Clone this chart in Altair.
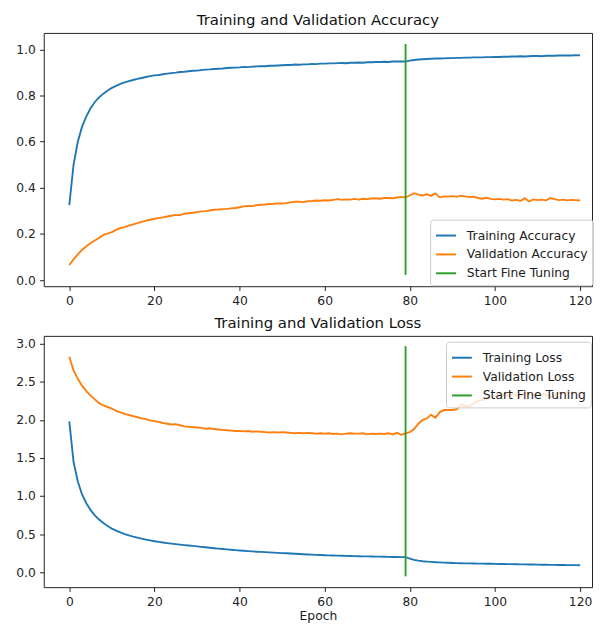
import altair as alt
import pandas as pd

epochs = list(range(121))

train_acc = [
    0.325, 0.500, 0.600, 0.665, 0.710, 0.745, 0.772, 0.792, 0.808, 0.822,
    0.833, 0.842, 0.850, 0.857, 0.862, 0.867, 0.872, 0.876, 0.880, 0.884,
    0.887, 0.889, 0.892, 0.895, 0.897, 0.899, 0.902, 0.903, 0.905, 0.907,
    0.908, 0.910, 0.912, 0.913, 0.915, 0.916, 0.917, 0.919, 0.920, 0.921,
    0.922, 0.924, 0.923, 0.925, 0.926, 0.927, 0.927, 0.929, 0.929, 0.930,
    0.931, 0.932, 0.932, 0.934, 0.933, 0.935, 0.935, 0.937, 0.936, 0.938,
    0.938, 0.939, 0.939, 0.940, 0.941, 0.940, 0.942, 0.942, 0.943, 0.942,
    0.944, 0.944, 0.945, 0.945, 0.946, 0.945, 0.947, 0.947, 0.948, 0.947,
    0.951, 0.954, 0.956, 0.957, 0.958, 0.959, 0.960, 0.960, 0.961, 0.962,
    0.962, 0.963, 0.963, 0.964, 0.964, 0.965, 0.965, 0.965, 0.966, 0.966,
    0.967, 0.967, 0.968, 0.968, 0.969, 0.969, 0.970, 0.969, 0.970, 0.971,
    0.971, 0.970, 0.972, 0.972, 0.972, 0.973, 0.973, 0.974, 0.973, 0.975,
    0.974,
]

val_acc = [
    0.066, 0.090, 0.112, 0.131, 0.147, 0.161, 0.172, 0.183, 0.196, 0.202,
    0.208, 0.218, 0.226, 0.230, 0.236, 0.242, 0.247, 0.253, 0.258, 0.262,
    0.266, 0.269, 0.272, 0.276, 0.279, 0.283, 0.282, 0.288, 0.290, 0.292,
    0.295, 0.298, 0.299, 0.302, 0.305, 0.306, 0.308, 0.309, 0.311, 0.313,
    0.316, 0.320, 0.322, 0.321, 0.325, 0.327, 0.328, 0.330, 0.331, 0.333,
    0.332, 0.334, 0.337, 0.340, 0.340, 0.338, 0.342, 0.343, 0.345, 0.344,
    0.346, 0.345, 0.348, 0.351, 0.348, 0.350, 0.349, 0.352, 0.349, 0.353,
    0.351, 0.354, 0.355, 0.353, 0.356, 0.356, 0.355, 0.358, 0.361, 0.358,
    0.368, 0.377, 0.371, 0.367, 0.372, 0.365, 0.376, 0.359, 0.363, 0.362,
    0.364, 0.361, 0.366, 0.363, 0.360, 0.362, 0.356, 0.353, 0.357, 0.352,
    0.350, 0.352, 0.349, 0.351, 0.345, 0.348, 0.343, 0.355, 0.341, 0.350,
    0.347, 0.349, 0.346, 0.356, 0.351, 0.347, 0.349, 0.346, 0.348, 0.347,
    0.345,
]

train_loss = [
    1.980, 1.450, 1.190, 1.020, 0.905, 0.815, 0.745, 0.690, 0.645, 0.605,
    0.572, 0.545, 0.521, 0.500, 0.482, 0.466, 0.452, 0.439, 0.427, 0.416,
    0.406, 0.397, 0.389, 0.381, 0.374, 0.367, 0.361, 0.355, 0.349, 0.344,
    0.338, 0.332, 0.326, 0.320, 0.314, 0.308, 0.303, 0.298, 0.293, 0.288,
    0.284, 0.280, 0.276, 0.272, 0.268, 0.265, 0.262, 0.259, 0.256, 0.253,
    0.250, 0.247, 0.244, 0.241, 0.238, 0.235, 0.232, 0.229, 0.227, 0.225,
    0.222, 0.220, 0.218, 0.216, 0.215, 0.213, 0.211, 0.210, 0.208, 0.207,
    0.206, 0.205, 0.204, 0.203, 0.202, 0.200, 0.199, 0.198, 0.197, 0.196,
    0.178, 0.160, 0.150, 0.143, 0.138, 0.134, 0.130, 0.127, 0.125, 0.122,
    0.120, 0.118, 0.117, 0.115, 0.114, 0.113, 0.112, 0.111, 0.110, 0.109,
    0.108, 0.107, 0.106, 0.105, 0.104, 0.103, 0.102, 0.101, 0.100, 0.099,
    0.098, 0.097, 0.096, 0.095, 0.095, 0.094, 0.093, 0.092, 0.092, 0.091,
    0.090,
]

val_loss = [
    2.830, 2.650, 2.540, 2.450, 2.380, 2.320, 2.270, 2.220, 2.190, 2.170,
    2.150, 2.120, 2.100, 2.080, 2.065, 2.050, 2.035, 2.020, 2.010, 1.995,
    1.985, 1.975, 1.960, 1.950, 1.940, 1.945, 1.930, 1.915, 1.910, 1.905,
    1.900, 1.895, 1.885, 1.890, 1.880, 1.875, 1.870, 1.865, 1.860, 1.855,
    1.855, 1.850, 1.855, 1.845, 1.850, 1.845, 1.840, 1.835, 1.840, 1.835,
    1.840, 1.835, 1.830, 1.825, 1.830, 1.825, 1.830, 1.825, 1.820, 1.825,
    1.820, 1.825, 1.815, 1.820, 1.810, 1.820, 1.825, 1.820, 1.820, 1.825,
    1.810, 1.820, 1.815, 1.820, 1.815, 1.825, 1.810, 1.830, 1.805, 1.825,
    1.840, 1.880, 1.950, 2.000, 2.020, 2.070, 2.030, 2.100, 2.130, 2.130,
    2.130, 2.140, 2.200, 2.180, 2.180, 2.220, 2.250, 2.260, 2.280, 2.300,
    2.310, 2.320, 2.330, 2.320, 2.340, 2.330, 2.310, 2.360, 2.340, 2.330,
    2.320, 2.340, 2.330, 2.300, 2.320, 2.360, 2.350, 2.360, 2.360, 2.350,
    2.370,
]

fine_tune_epoch = 79
acc_rule_span = [0.023, 1.023]
loss_rule_span = [-0.056, 2.97]

acc_labels = ["Training Accuracy", "Validation Accuracy", "Start Fine Tuning"]
loss_labels = ["Training Loss", "Validation Loss", "Start Fine Tuning"]
colors = ["#1f77b4", "#ff7f0e", "#2ca02c"]

x_ticks = [0, 20, 40, 60, 80, 100, 120]
acc_ticks = [0.0, 0.2, 0.4, 0.6, 0.8, 1.0]
loss_ticks = [0.0, 0.5, 1.0, 1.5, 2.0, 2.5, 3.0]

FONT = "DejaVu Sans"


def panel(train, val, labels, span, yticks, ydomain, title, lx, ly, xtitle, h):
    df = pd.DataFrame({
        "epoch": epochs + epochs,
        "value": train + val,
        "series": [labels[0]] * len(epochs) + [labels[1]] * len(epochs),
    })
    rdf = pd.DataFrame({
        "epoch": [fine_tune_epoch],
        "y1": [span[0]],
        "y2": [span[1]],
        "series": [labels[2]],
    })
    color = alt.Color(
        "series:N",
        scale=alt.Scale(domain=labels, range=colors),
        legend=alt.Legend(
            title=None, orient="none", legendX=lx, legendY=ly,
            symbolType="stroke", symbolSize=400, symbolStrokeWidth=2,
            labelFont=FONT, labelFontSize=12.4, labelColor="#222222",
            labelOffset=10, rowPadding=1, padding=5, labelLimit=0,
            fillColor="rgba(255,255,255,0.8)", strokeColor="#cccccc",
            cornerRadius=3,
        ),
    )
    xenc = alt.X(
        "epoch:Q",
        scale=alt.Scale(domain=[-6, 122.8], nice=False, zero=False),
        axis=alt.Axis(values=x_ticks, format="d", title=xtitle),
    )
    yscale = alt.Scale(domain=ydomain, nice=False, zero=False)
    yaxis = alt.Axis(values=yticks, format=".1f", title=None)
    lines = alt.Chart(df).mark_line(strokeWidth=1.9).encode(
        x=xenc,
        y=alt.Y("value:Q", scale=yscale, axis=yaxis),
        color=color,
    )
    rule = alt.Chart(rdf).mark_rule(strokeWidth=1.9).encode(
        x=alt.X("epoch:Q"),
        y=alt.Y("y1:Q"),
        y2="y2:Q",
        color=color,
    )
    return alt.layer(lines, rule).properties(
        width=552, height=h,
        title=alt.Title(title, font=FONT, fontSize=15, fontWeight="normal",
                        color="#111111", offset=5),
    )


top = panel(train_acc, val_acc, acc_labels, acc_rule_span, acc_ticks,
            [-0.026, 1.071], "Training and Validation Accuracy", 389, 188,
            None, 255)
bottom = panel(train_loss, val_loss, loss_labels, loss_rule_span, loss_ticks,
               [-0.198, 3.105], "Training and Validation Loss", 405, 6,
               "Epoch", 253)

chart = alt.vconcat(top, bottom, spacing=7).resolve_scale(
    color="independent", y="independent"
).properties(
    padding={"left": 7, "top": 2, "right": 0, "bottom": 0}
).configure_view(
    stroke="#222222", strokeWidth=1
).configure_axis(
    domain=False, grid=False, ticks=True, tickColor="#222222", tickSize=4.3,
    tickWidth=1, labelPadding=4.3, labelFont=FONT, labelFontSize=12.4,
    labelColor="#222222", titleFont=FONT, titleFontSize=12.4,
    titleFontWeight="normal", titleColor="#222222", titlePadding=2,
)

chart.save("out.html", embed_options={"renderer": "svg", "actions": False})
